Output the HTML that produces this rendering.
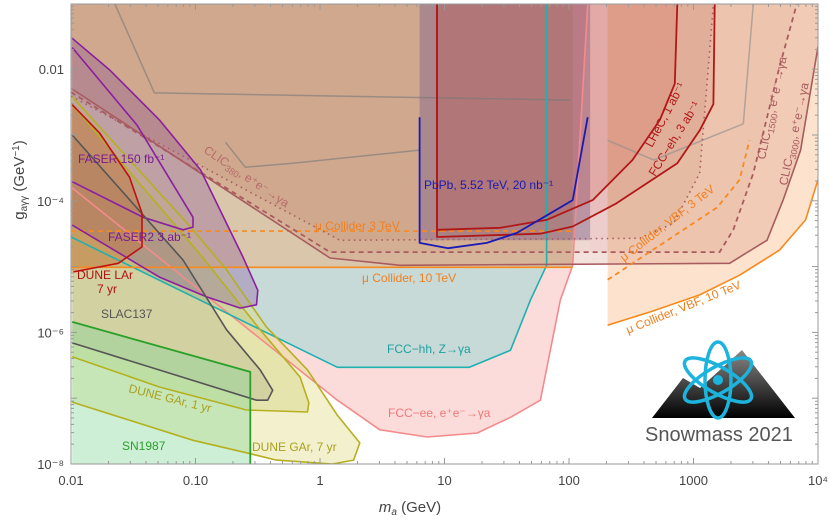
<!DOCTYPE html>
<html><head><meta charset="utf-8"><style>
body{margin:0;background:#fff;}
svg{display:block;font-family:"Liberation Sans",sans-serif;}
</style></head><body>
<svg id="chart" width="830" height="521" viewBox="0 0 830 521">
<defs><clipPath id="clip"><rect x="71" y="4" width="747" height="460"/></clipPath>
<linearGradient id="mtn" x1="0" y1="0" x2="0" y2="1"><stop offset="0" stop-color="#888"/><stop offset="1" stop-color="#000"/></linearGradient></defs>
<g id="plot" clip-path="url(#clip)"></g>
<g id="axes"></g>
</svg>
<script>
// ---- data (log10 m [GeV], log10 g [GeV^-1]) ----
const xTicks=[-2,-1,0,1,2,3,4];
const xTickLabels=["0.01","0.10","1","10","100","1000","10⁴"];
const yTicks=[-2,-4,-6,-8];
const yTickLabels=["0.01","10⁻⁴","10⁻⁶","10⁻⁸"];

const vbf10M=[2.31,2.65,3.05,3.37,3.69,3.90,4.0];
const vbf10G=[-5.89,-5.69,-5.43,-5.13,-4.75,-4.29,-3.68];
const fccEeM=[-2,-0.67,0.14,0.48,0.86,1.26,1.53,1.77,1.93,2.03,2.15];
const fccEeG=[-3.79,-5.81,-7.03,-7.48,-7.59,-7.53,-7.29,-7.03,-5.51,-4.98,-1.01];
const fccHhM=[-2,0.14,1.20,1.53,1.69,1.82,1.82];
const fccHhG=[-4.55,-6.53,-6.53,-6.27,-5.51,-4.98,-1.01];
const mu10G=-5.01, mu3G=-4.46, muEndM=2.03;
const clic3000M=[-2,0.08,0.64,3.29,3.40,3.59,3.72,3.86,4.0];
const clic3000G=[-2.29,-4.87,-4.98,-4.95,-4.82,-4.60,-3.99,-3.23,-1.66];
const clic1500M=[-2,0.08,3.21,3.32,3.48,3.69,3.83];
const clic1500G=[-2.35,-4.78,-4.78,-4.44,-3.58,-1.97,-1.01];
const clic380M=[-2,0.16,2.57,2.84,3.05,3.16];
const clic380G=[-2.41,-4.60,-4.57,-4.34,-3.58,-1.01];
const lhecM=[0.94,0.94,1.45,1.82,2.19,2.51,2.73,2.85,2.87];
const lhecG=[-1.01,-4.44,-4.41,-4.29,-3.99,-3.38,-2.77,-2.22,-1.01];
const fccEhM=[0.94,0.94,1.77,2.03,2.38,2.87,3.05,3.16,3.17];
const fccEhG=[-1.01,-4.55,-4.50,-4.39,-4.04,-3.43,-2.93,-2.53,-1.01];
const pbpbM=[0.80,0.80,1.03,1.34,1.58,1.85,2.03,2.15];
const pbpbG=[-2.73,-4.64,-4.72,-4.64,-4.49,-4.19,-3.99,-2.73];
const vbf3M=[2.31,2.79,3.19,3.37,3.45];
const vbf3G=[-5.20,-4.60,-4.10,-3.68,-3.08];
const faser2M=[-1.99,-1.69,-1.29,-0.96,-0.62,-0.50,-0.51,-0.64,-0.91,-1.29,-1.99];
const faser2G=[-1.53,-2.01,-2.77,-3.53,-4.85,-5.36,-5.58,-5.63,-5.46,-5.16,-4.37];
const faserM=[-1.99,-1.47,-1.02,-1.02,-1.10,-1.42,-1.99];
const faserG=[-1.67,-2.85,-4.25,-4.40,-4.44,-4.25,-3.71];
const gar7M=[-1.99,-1.02,-0.75,-0.43,-0.10,0.14,0.32,0.27,0.10,-0.35,-0.59,-1.02,-1.99];
const gar7G=[-2.42,-4.44,-5.05,-5.92,-6.57,-7.26,-7.68,-7.94,-8.0,-7.94,-7.83,-7.64,-7.06];
const gar1M=[-1.99,-1.29,-0.59,-0.10,-0.09,-0.16,-0.48,-0.96,-1.61,-1.99];
const gar1G=[-6.37,-6.83,-7.18,-7.21,-7.07,-6.68,-5.96,-4.82,-3.38,-2.54];
const slacM=[-1.99,-1.10,-0.75,-0.48,-0.38,-0.42,-0.51,-1.99];
const slacG=[-3.0,-4.90,-5.96,-6.57,-6.88,-7.03,-7.03,-6.16];
const snM=[-1.99,-0.56,-0.56,-1.99];
const snG=[-5.84,-6.60,-8.0,-8.0];
const lar7M=[-1.99,-1.77,-1.53,-1.43,-1.43,-1.62,-1.98];
const lar7G=[-2.54,-2.97,-3.64,-4.19,-4.70,-4.95,-5.08];
const exist1M=[-1.65,-1.33,1.12,2.01];
const exist1G=[-1.0,-2.36,-2.44,-2.47];
const exist2M=[-0.76,-0.60,-0.22,0.80];
const exist2G=[-3.11,-3.49,-3.43,-3.23];
const exist3M=[2.31,2.68,3.40,3.48];
const exist3G=[-3.08,-3.38,-2.83,-1.01];
const bandM=[0.80,2.17,2.31];

// ---- axis functions ----
const X0=71,PXD=124.5,Y0=464,PYD=65.8;
function sx(lm){return X0+(lm+2)*PXD;}
function sy(lg){return Y0-(lg+8)*PYD;}
const NS="http://www.w3.org/2000/svg";
const plot=document.getElementById('plot'), axes=document.getElementById('axes');
function pts(M,G){return M.map((m,i)=>sx(m).toFixed(1)+','+sy(G[i]).toFixed(1));}
function mk(tag,parent,attrs){const e=document.createElementNS(NS,tag);for(const k in attrs)e.setAttribute(k,attrs[k]);parent.appendChild(e);return e;}
function poly(M,G,extra,fill,name){
  const p=pts(M,G).concat(extra||[]);
  const e=mk('polygon',plot,{points:p.join(' '),fill:fill,stroke:'none'});
  
  
  return e;}
function line(M,G,stroke,w,dash,name,parent){
  const e=mk('polyline',parent||plot,{points:pts(M,G).join(' '),fill:'none',stroke:stroke,'stroke-width':w,'stroke-linejoin':'round'});
  if(dash)e.setAttribute('stroke-dasharray',dash);
  
  
  return e;}
const c=(m,g)=>sx(m).toFixed(1)+','+sy(g).toFixed(1);

// regions
poly(vbf10M,vbf10G,[c(4,-1.01),c(2.31,-1.01)],'#fde3cd','vbf10-region');
poly(fccEeM,fccEeG,[c(-2,-1.01)],'#fcdcdb','fcc-ee-region');
poly(fccHhM,fccHhG,[c(-2,-1.01)],'#c7dad8','fcc-hh-region');
poly([-2,muEndM,muEndM,-2],[mu10G,mu10G,-1.01,-1.01],[],'#dac7ab','mu10-region');
poly(clic3000M,clic3000G,[c(4,-1.01),c(-2,-1.01)],'rgba(200,120,95,0.22)','clic3000-region');
poly(clic1500M,clic1500G,[c(-2,-1.01)],'rgba(195,110,90,0.08)','clic1500-region');
poly(clic380M,clic380G,[c(-2,-1.01)],'rgba(170,125,100,0.12)','clic380-region');
poly([bandM[0],bandM[1],bandM[1],bandM[0]],[-4.6,-4.6,-1.01,-1.01],[],'rgba(110,85,140,0.38)','pbpb-existing-band');
poly([bandM[1],bandM[2],bandM[2],bandM[1]],[-4.75,-4.75,-1.01,-1.01],[],'rgba(240,205,210,0.55)','existing-band-2');
poly(lhecM,lhecG,[],'rgba(200,60,55,0.16)','lhec-region');
poly(fccEhM,fccEhG,[],'rgba(200,70,60,0.10)','fcc-eh-region');
poly(gar7M,gar7G,[],'rgba(225,220,130,0.40)','dune-gar-7yr-region');
poly(gar1M,gar1G,[],'rgba(190,190,80,0.25)','dune-gar-1yr-region');
poly(faser2M,faser2G,[],'rgba(130,70,150,0.30)','faser2-region');
poly(slacM,slacG,[],'rgba(100,100,100,0.15)','slac137-region');
poly(lar7M,lar7G,[c(-2,-5.08)],'rgba(205,100,40,0.35)','dune-lar-region');
poly(snM,snG,[],'rgba(130,215,150,0.40)','sn1987-region');

// lines
line(exist1M,exist1G,'rgba(120,120,120,0.6)',1.5,null,'existing-limit-1');
line(exist2M,exist2G,'rgba(120,120,120,0.6)',1.5,null,'existing-limit-2');
line(exist3M,exist3G,'rgba(140,140,140,0.6)',1.5,null,'existing-limit-3');
line(vbf10M,vbf10G,'#f78a1e',1.6,null,'vbf10-line');
line(fccEeM,fccEeG,'#f28c8c',1.6,null,'fcc-ee-line');
line(fccHhM,fccHhG,'#1fb0b0',1.6,null,'fcc-hh-line');
line([-2,muEndM],[mu10G,mu10G],'#f78a1e',1.6,null,'mu10-line');
line([-2,muEndM],[mu3G,mu3G],'#f78a1e',1.6,'5,4','mu3-line');
line(clic3000M,clic3000G,'#a85c60',1.6,null,'clic3000-line');
line(clic1500M,clic1500G,'#a85c60',1.8,'5,4','clic1500-line');
line(clic380M,clic380G,'#a85c60',1.6,'1.5,4','clic380-line');
line(lhecM,lhecG,'#b01818',1.8,null,'lhec-line');
line(fccEhM,fccEhG,'#b01818',1.8,null,'fcc-eh-line');
line(pbpbM,pbpbG,'#1a1ab4',1.8,null,'pbpb-line');
line(vbf3M,vbf3G,'#f78a1e',1.8,'5,4','vbf3-line');
line(gar7M,gar7G,'#b5b020',1.6,null,'dune-gar-7yr-line');
line(gar1M,gar1G,'#b5b020',1.6,null,'dune-gar-1yr-line');
line(faser2M,faser2G,'#8a1fa0',1.6,null,'faser2-line');
line(faserM,faserG,'#8a1fa0',1.6,null,'faser-line');
line(slacM,slacG,'#555',1.6,null,'slac137-line');
line(lar7M,lar7G,'#c01010',1.6,null,'dune-lar-line');
line(snM.slice(0,3),snG.slice(0,3),'#2aa02a',1.8,null,'sn1987-line');

// ---- axes ----
mk('rect',axes,{x:71,y:4,width:747,height:460,fill:'none',stroke:'#999','stroke-width':1});
for(let d=-2;d<4;d++){for(let k=1;k<10;k++){const x=sx(d+Math.log10(k));const L=k==1?6:3;
 mk('line',axes,{x1:x,y1:464,x2:x,y2:464-L,stroke:'#999'});mk('line',axes,{x1:x,y1:4,x2:x,y2:4+L,stroke:'#999'});}}
for(let d=-8;d<-1;d++){for(let k=1;k<10;k++){const y=sy(d+Math.log10(k));const L=k==1?6:3;
 mk('line',axes,{x1:71,y1:y,x2:71+L,y2:y,stroke:'#999'});mk('line',axes,{x1:818,y1:y,x2:818-L,y2:y,stroke:'#999'});}}
xTicks.forEach((t,i)=>{const e=mk('text',axes,{x:sx(t),y:485,'text-anchor':'middle','font-size':13,fill:'#444'});e.textContent=xTickLabels[i];
 
 });
yTicks.forEach((t,i)=>{const e=mk('text',axes,{x:64,y:sy(t)+5,'text-anchor':'end','font-size':13,fill:'#444'});e.textContent=yTickLabels[i];
 
 });
</script>
<svg width="830" height="521" style="position:absolute;left:0;top:0" font-family="Liberation Sans, sans-serif">
<text x="410" y="512" font-size="15" fill="#444" text-anchor="middle"><tspan font-style="italic">m</tspan><tspan font-size="10" font-style="italic" dy="3">a</tspan><tspan dy="-3"> (GeV)</tspan></text>
<text transform="translate(24,180) rotate(-90)" font-size="15" fill="#444" text-anchor="middle">g<tspan font-size="10" dy="3">aγγ</tspan><tspan dy="-3"> (GeV</tspan><tspan font-size="10" dy="-5">−1</tspan><tspan dy="5">)</tspan></text>
<g font-size="12">
<text transform="translate(203,152) rotate(34)" fill="#b86a6a">CLIC<tspan font-size="9" dy="3">380</tspan><tspan dy="-3">, e⁺e⁻→γa</tspan></text>
<text x="315" y="230" fill="#f08020">μ Collider 3 TeV</text>
<text x="362" y="282" fill="#f08020">μ Collider, 10 TeV</text>
<text x="424" y="189" fill="#1a1ab4">PbPb, 5.52 TeV, 20 nb⁻¹</text>
<text transform="translate(652,148) rotate(-62)" fill="#b01818">LHeC, 1 ab⁻¹</text>
<text transform="translate(655,177) rotate(-58)" fill="#b01818">FCC−eh, 3 ab⁻¹</text>
<text transform="translate(765,160) rotate(-78)" fill="#a85c60">CLIC<tspan font-size="9" dy="3">1500</tspan><tspan dy="-3">, e⁺e⁻→γa</tspan></text>
<text transform="translate(787,186) rotate(-78)" fill="#a85c60">CLIC<tspan font-size="9" dy="3">3000</tspan><tspan dy="-3">, e⁺e⁻→γa</tspan></text>
<text transform="translate(624,262) rotate(-38)" fill="#f08020">μ Collider, VBF, 3 TeV</text>
<text transform="translate(628,334) rotate(-22)" fill="#f08020">μ Collider, VBF, 10 TeV</text>
<text x="78" y="163" fill="#7a1a90">FASER 150 fb⁻¹</text>
<text x="108" y="241" fill="#7a1a90">FASER2 3 ab⁻¹</text>
<text x="77" y="279" fill="#b01010">DUNE LAr</text>
<text x="97" y="293" fill="#b01010">7 yr</text>
<text x="101" y="318" fill="#555">SLAC137</text>
<text x="387" y="353" fill="#1fa0a0">FCC−hh, Z→γa</text>
<text x="388" y="417" fill="#f07878">FCC−ee, e⁺e⁻→γa</text>
<text transform="translate(128,392) rotate(14)" fill="#a8a020">DUNE GAr, 1 yr</text>
<text x="252" y="451" fill="#a8a020">DUNE GAr, 7 yr</text>
<text x="122" y="450" fill="#2aa02a">SN1987</text>
</g>
<g>
<polygon points="652,418 683,378 700,388 742,350 795,418" fill="url(#mtn)"/>
<g fill="none" stroke="#1cb4dc" stroke-width="3.5">
<ellipse cx="718" cy="380" rx="38" ry="13" transform="rotate(90 718 380)"/>
<ellipse cx="718" cy="380" rx="38" ry="13" transform="rotate(30 718 380)"/>
<ellipse cx="718" cy="380" rx="38" ry="13" transform="rotate(-30 718 380)"/>
</g>
<circle cx="718" cy="380" r="5" fill="#1cb4dc"/>
<text x="645" y="441" font-size="20" fill="#555">Snowmass 2021</text>
</g>
</svg>
</body></html>
